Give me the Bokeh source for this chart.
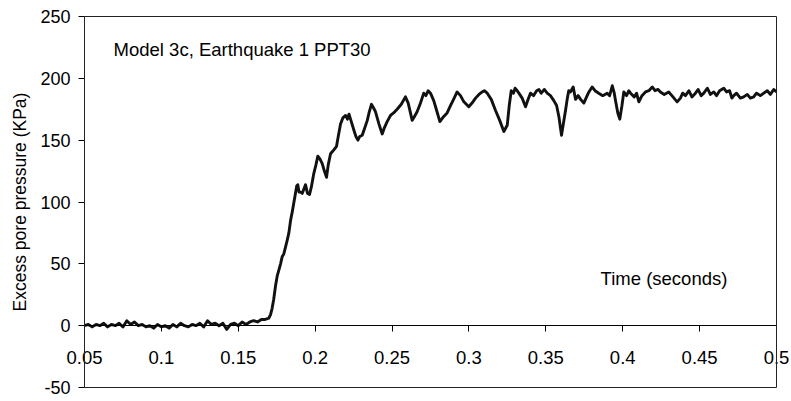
from bokeh.plotting import figure
from bokeh.models import FixedTicker, Range1d, Label, BoxAnnotation
from bokeh.embed import file_html
from bokeh.resources import INLINE

# ---- data ----
time_s = [
    0.0500, 0.0525, 0.0550, 0.0575, 0.0600, 0.0625, 0.0650, 0.0675, 0.0700, 0.0725,
    0.0750, 0.0775, 0.0800, 0.0825, 0.0850, 0.0875, 0.0900, 0.0925, 0.0950, 0.0975,
    0.1000, 0.1025, 0.1050, 0.1075, 0.1100, 0.1125, 0.1150, 0.1175, 0.1200, 0.1225,
    0.1250, 0.1275, 0.1300, 0.1325, 0.1350, 0.1375, 0.1400, 0.1425, 0.1450, 0.1475,
    0.1500, 0.1525, 0.1550, 0.1575, 0.1600, 0.1625, 0.1650, 0.1675,
    0.1698, 0.1710, 0.1720, 0.1730, 0.1742, 0.1753, 0.1775, 0.1786, 0.1796, 0.1818,
    0.1829, 0.1840, 0.1851, 0.1872, 0.1880, 0.1887, 0.1895, 0.1905, 0.1916, 0.1925,
    0.1937, 0.1950, 0.1963, 0.1975, 0.1991, 0.2005, 0.2017, 0.2030, 0.2046, 0.2060,
    0.2074, 0.2085, 0.2100, 0.2120, 0.2139, 0.2150, 0.2165, 0.2180, 0.2198, 0.2210,
    0.2220, 0.2230, 0.2252, 0.2265, 0.2278, 0.2290, 0.2306, 0.2320, 0.2339, 0.2350,
    0.2366, 0.2380, 0.2392, 0.2415, 0.2436, 0.2450, 0.2468, 0.2490, 0.2510, 0.2533,
    0.2560, 0.2587, 0.2605, 0.2631, 0.2645, 0.2663, 0.2685, 0.2706, 0.2720, 0.2735,
    0.2750, 0.2771, 0.2790, 0.2811, 0.2835, 0.2858, 0.2880, 0.2900, 0.2923, 0.2945,
    0.2967, 0.2999, 0.3020, 0.3043, 0.3065, 0.3086, 0.3100, 0.3119, 0.3145, 0.3173,
    0.3200, 0.3227, 0.3240, 0.3249, 0.3262, 0.3275, 0.3290, 0.3300, 0.3314, 0.3330,
    0.3346, 0.3368, 0.3385, 0.3400, 0.3420, 0.3440, 0.3455, 0.3470, 0.3490, 0.3509,
    0.3530, 0.3552, 0.3570, 0.3585, 0.3595, 0.3602, 0.3615, 0.3628, 0.3640, 0.3649,
    0.3660, 0.3678, 0.3693, 0.3710, 0.3726, 0.3747, 0.3765, 0.3780, 0.3801, 0.3820,
    0.3844, 0.3870, 0.3899, 0.3915, 0.3932, 0.3945, 0.3953, 0.3968, 0.3981, 0.3995,
    0.4007, 0.4025, 0.4040, 0.4051, 0.4075, 0.4090, 0.4105, 0.4125, 0.4148, 0.4170,
    0.4192, 0.4210, 0.4230, 0.4245, 0.4270, 0.4299, 0.4320, 0.4340, 0.4354, 0.4375,
    0.4390, 0.4408, 0.4430, 0.4450, 0.4473, 0.4490, 0.4510, 0.4527, 0.4550, 0.4570,
    0.4592, 0.4610, 0.4630, 0.4657, 0.4675, 0.4695, 0.4710, 0.4722, 0.4740, 0.4765,
    0.4787, 0.4810, 0.4830, 0.4852, 0.4870, 0.4895, 0.4917, 0.4940, 0.4960, 0.4982,
    0.5000,
]
pressure_kpa = [
    0, 1, -1, 1, 0, 2, -1, 1, 0, 2,
    -1, 4, 1, 3, 0, 1, -1, 0, -2, 1,
    -1, 0, -2, 1, -1, 2, 0, -1, 1, 0,
    2, -1, 4, 1, 2, 0, 2, -3, 1, 2,
    0, 3, 1, 3, 4, 3, 5, 5,
    6, 9, 14, 21, 32, 40, 50, 56, 58, 69,
    75, 85, 92, 107, 113, 114, 108, 108, 107, 110,
    114, 107, 106, 112, 123, 130, 137, 135, 131, 125,
    120, 130, 139, 142, 145, 153, 163, 168, 170, 167,
    171, 167, 158, 153, 150, 153, 154, 159, 166, 172,
    179, 176, 173, 163, 155, 160, 165, 170, 172, 175,
    179, 185, 180, 166, 169, 173, 180, 188, 186, 190,
    188, 182, 174, 165, 169, 172, 178, 183, 189, 186,
    181, 177, 180, 184, 187, 189, 190, 188, 183, 174,
    166, 157, 160, 162, 178, 190, 188, 192, 190, 187,
    184, 177, 183, 188, 186, 190, 191, 188, 191, 188,
    186, 182, 178, 169, 160, 154, 164, 174, 184, 190,
    189, 193, 183, 186, 183, 180, 185, 189, 193, 190,
    188, 186, 188, 186, 194, 188, 182, 172, 167, 178,
    189, 186, 190, 188, 185, 188, 181, 186, 189, 190,
    193, 190, 191, 189, 187, 189, 186, 183, 181, 184,
    188, 186, 190, 185, 188, 191, 186, 188, 192, 187,
    189, 186, 190, 192, 189, 190, 184, 186, 188, 184,
    185, 187, 184, 185, 188, 186, 188, 190, 187, 191,
    189,
]
x_ticks = [0.05, 0.1, 0.15, 0.2, 0.25, 0.3, 0.35, 0.4, 0.45, 0.5]
x_tick_labels = ["0.05", "0.1", "0.15", "0.2", "0.25", "0.3", "0.35", "0.4", "0.45", "0.5"]
y_ticks = [-50, 0, 50, 100, 150, 200, 250]
y_tick_labels = ["-50", "0", "50", "100", "150", "200", "250"]

FONT = "Liberation Sans"

# plot box limits and where the box sits on the canvas
X_MIN, X_MAX = 0.05, 0.5
Y_MIN, Y_MAX = -50, 250
W, H = 791, 401
PAD_L, PAD_R, PAD_T, PAD_B = 84, 15, 16, 14

dx = (X_MAX - X_MIN) / (W - PAD_L - PAD_R)
dy = (Y_MAX - Y_MIN) / (H - PAD_T - PAD_B)

p = figure(width=W, height=H, output_backend="svg", toolbar_location=None,
           x_range=Range1d(X_MIN - PAD_L * dx, X_MAX + PAD_R * dx),
           y_range=Range1d(Y_MIN - PAD_B * dy, Y_MAX + PAD_T * dy),
           min_border_left=0, min_border_right=0, min_border_top=0,
           min_border_bottom=0, background_fill_color="white",
           border_fill_color="white")
p.outline_line_color = None
p.xgrid.visible = False
p.ygrid.visible = False

# plot box
p.add_layout(BoxAnnotation(left=X_MIN, right=X_MAX, bottom=Y_MIN, top=Y_MAX,
                           fill_alpha=0, line_color="#222222", line_width=1,
                           line_alpha=1))

p.line(time_s, pressure_kpa, line_color="#111111", line_width=2.9,
       line_join="round")

# x axis drawn through y = 0
xa = p.xaxis[0]
xa.fixed_location = 0
xa.bounds = (X_MIN, X_MAX)
xa.ticker = FixedTicker(ticks=x_ticks)
xa.major_label_overrides = {t: s for t, s in zip(x_ticks, x_tick_labels)}
xa.major_tick_in = 0
xa.major_tick_out = 6
xa.minor_tick_line_color = None
xa.axis_line_color = "black"
xa.major_tick_line_color = "black"
xa.major_label_text_font = FONT
xa.major_label_text_font_size = "18.5px"
xa.major_label_text_color = "black"
xa.major_label_standoff = 19

# y axis on the left edge of the box
ya = p.yaxis[0]
ya.fixed_location = X_MIN
ya.bounds = (Y_MIN, Y_MAX)
ya.ticker = FixedTicker(ticks=y_ticks)
ya.major_label_overrides = {t: s for t, s in zip(y_ticks, y_tick_labels)}
ya.major_tick_in = 0
ya.major_tick_out = 6
ya.minor_tick_line_color = None
ya.axis_line_color = "black"
ya.major_tick_line_color = "black"
ya.major_label_text_font = FONT
ya.major_label_text_font_size = "18px"
ya.major_label_text_color = "black"
ya.major_label_standoff = 8
ya.axis_label = "Excess pore pressure (KPa)"
ya.axis_label_text_font = FONT
ya.axis_label_text_font_size = "17.5px"
ya.axis_label_text_font_style = "normal"
ya.axis_label_text_color = "black"
ya.axis_label_standoff = 7

p.add_layout(Label(x=0.0689, y=223, text="Model 3c, Earthquake 1 PPT30",
                   text_font=FONT, text_font_size="18.5px",
                   text_baseline="middle", text_color="black"))
p.add_layout(Label(x=0.3856, y=38, text="Time (seconds)",
                   text_font=FONT, text_font_size="18.5px",
                   text_baseline="middle", text_color="black"))

open("out.html", "w").write(file_html(p, INLINE))
